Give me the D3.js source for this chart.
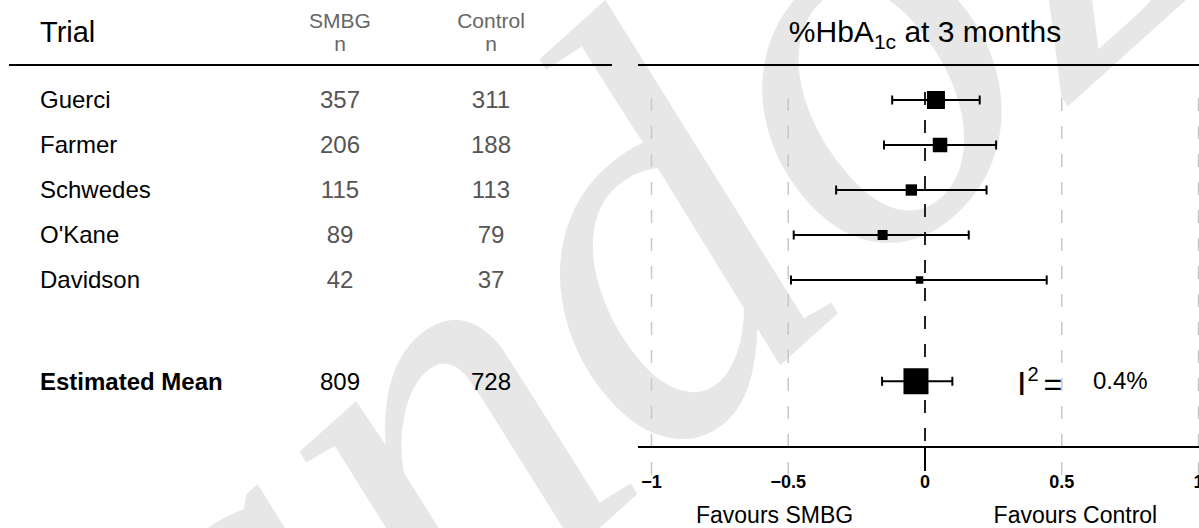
<!DOCTYPE html>
<html>
<head>
<meta charset="utf-8">
<script src="https://cdnjs.cloudflare.com/ajax/libs/d3/7.8.5/d3.min.js"></script>
<style>
  body { margin: 0; background: #fff; }
  svg { display: block; font-family: "Liberation Sans", Arial, sans-serif; }
</style>
</head>
<body>
<svg id="chart" width="1199" height="528"></svg>
<script>
// trial table
var trials   = ["Guerci", "Farmer", "Schwedes", "O'Kane", "Davidson"];
var nSMBG    = [357, 206, 115, 89, 42];
var nControl = [311, 188, 113, 79, 37];
// HbA1c difference at 3 months, with 95% CI
var est   = [0.04, 0.055, -0.05, -0.155, -0.02];
var lower = [-0.12, -0.15, -0.325, -0.48, -0.49];
var upper = [0.20, 0.26, 0.225, 0.16, 0.445];

var meanLabel = "Estimated Mean";
var meanSMBG = 809, meanControl = 728;
var meanEst = -0.033, meanLower = -0.157, meanUpper = 0.10;
var i2Text = "0.4%";

var xTicks = [-1, -0.5, 0, 0.5, 1];
var refLines = [-1, -0.5, 0.5, 1];

var svg = d3.select("#chart");

var x = d3.scaleLinear().domain([-1, 1]).range([651.5, 1198.5]);
// row index -> vertical position
var y = d3.scaleLinear().domain([0, 1]).range([100, 145]);
var meanRow = 6.25;

// box size from precision of the estimate
var prec = trials.map(function(t, i) { return 1 / (upper[i] - lower[i]); });
var boxSize = d3.scaleLinear().domain(d3.extent(prec)).range([7.5, 18]);

// watermark
svg.append("text")
   .attr("transform", "translate(32,1039) rotate(-42)")
   .style("font-family", "'Liberation Serif', serif")
   .style("font-style", "italic")
   .style("font-size", "560px")
   .attr("fill", "#e7e7e7")
   .text("Sandoz");

// header
svg.append("text").attr("x", 40).attr("y", 32).attr("dy", "0.35em")
   .style("font-size", "29px").text("Trial");

var heads = [["SMBG", 340], ["Control", 491]];
heads.forEach(function(h) {
  svg.append("text").attr("x", h[1]).attr("y", 21).attr("dy", "0.35em")
     .attr("text-anchor", "middle").attr("fill", "#666").style("font-size", "21px").text(h[0]);
  svg.append("text").attr("x", h[1]).attr("y", 44).attr("dy", "0.35em")
     .attr("text-anchor", "middle").attr("fill", "#666").style("font-size", "21px").text("n");
});

var title = svg.append("text").attr("x", x(0)).attr("y", 42)
   .attr("text-anchor", "middle").style("font-size", "30px");
title.append("tspan").text("%HbA");
title.append("tspan").attr("dy", 7).style("font-size", "21px").text("1c");
title.append("tspan").attr("dy", -7).text(" at 3 months");

svg.append("line").attr("x1", 9).attr("x2", 612).attr("y1", 65).attr("y2", 65)
   .attr("stroke", "#000").attr("stroke-width", 2);
svg.append("line").attr("x1", 638).attr("x2", 1199).attr("y1", 65).attr("y2", 65)
   .attr("stroke", "#000").attr("stroke-width", 2);

// table rows
var rows = svg.append("g");
trials.forEach(function(t, i) {
  rows.append("text").attr("x", 40).attr("y", y(i)).attr("dy", "0.35em")
      .style("font-size", "24px").text(t);
  rows.append("text").attr("x", 340).attr("y", y(i)).attr("dy", "0.35em")
      .attr("text-anchor", "middle").attr("fill", "#555").style("font-size", "24px").text(nSMBG[i]);
  rows.append("text").attr("x", 491).attr("y", y(i)).attr("dy", "0.35em")
      .attr("text-anchor", "middle").attr("fill", "#555").style("font-size", "24px").text(nControl[i]);
});
rows.append("text").attr("x", 40).attr("y", y(meanRow)).attr("dy", "0.35em")
    .style("font-size", "24px").style("font-weight", "bold").text(meanLabel);
rows.append("text").attr("x", 340).attr("y", y(meanRow)).attr("dy", "0.35em")
    .attr("text-anchor", "middle").style("font-size", "24px").text(meanSMBG);
rows.append("text").attr("x", 491).attr("y", y(meanRow)).attr("dy", "0.35em")
    .attr("text-anchor", "middle").style("font-size", "24px").text(meanControl);

// reference lines
var axisY = 447;
svg.selectAll(".ref").data(refLines).enter().append("line")
   .attr("x1", function(d) { return x(d); }).attr("x2", function(d) { return x(d); })
   .attr("y1", 98).attr("y2", 476)
   .attr("stroke", "#c8c8c8").attr("stroke-width", 1.5).attr("stroke-dasharray", "13,15");
svg.append("line").attr("x1", x(0)).attr("x2", x(0)).attr("y1", 92).attr("y2", axisY)
   .attr("stroke", "#222").attr("stroke-width", 2).attr("stroke-dasharray", "13,15");

// axis
svg.append("line").attr("x1", 638).attr("x2", 1199).attr("y1", axisY).attr("y2", axisY)
   .attr("stroke", "#000").attr("stroke-width", 2);
svg.append("line").attr("x1", x(0)).attr("x2", x(0)).attr("y1", axisY).attr("y2", axisY + 24)
   .attr("stroke", "#000").attr("stroke-width", 2);
svg.selectAll(".tick").data(xTicks).enter().append("text")
   .attr("x", function(d) { return x(d); }).attr("y", 482).attr("dy", "0.35em")
   .attr("text-anchor", "middle").style("font-size", "18px").style("font-weight", "bold")
   .text(function(d) { return d3.format("")(d).replace("-", "\u2013"); });

svg.append("text").attr("x", x(-0.55)).attr("y", 515).attr("dy", "0.35em")
   .attr("text-anchor", "middle").style("font-size", "23px").text("Favours SMBG");
svg.append("text").attr("x", x(0.55)).attr("y", 515).attr("dy", "0.35em")
   .attr("text-anchor", "middle").style("font-size", "23px").text("Favours Control");

// CIs and boxes
var plot = svg.append("g");
function drawCI(yy, lo, hi) {
  plot.append("line").attr("x1", x(lo)).attr("x2", x(hi)).attr("y1", yy).attr("y2", yy)
      .attr("stroke", "#000").attr("stroke-width", 2);
  [lo, hi].forEach(function(v) {
    plot.append("line").attr("x1", x(v)).attr("x2", x(v)).attr("y1", yy - 4.5).attr("y2", yy + 4.5)
        .attr("stroke", "#000").attr("stroke-width", 2);
  });
}
trials.forEach(function(t, i) {
  drawCI(y(i), lower[i], upper[i]);
  var s = boxSize(prec[i]);
  plot.append("rect").attr("x", x(est[i]) - s / 2).attr("y", y(i) - s / 2)
      .attr("width", s).attr("height", s).attr("fill", "#000");
});
drawCI(y(meanRow), meanLower, meanUpper);
plot.append("rect").attr("x", x(meanEst) - 12.5).attr("y", y(meanRow) - 13)
    .attr("width", 25).attr("height", 26).attr("fill", "#000");

// heterogeneity
var i2 = svg.append("text").attr("x", 1017).attr("y", 395).style("font-size", "34px");
i2.append("tspan").text("I");
i2.append("tspan").attr("dy", -14).attr("dx", 1).style("font-size", "20px").text("2");
i2.append("tspan").attr("dy", 14).attr("dx", 5).style("font-size", "32px").text("=");
svg.append("text").attr("x", 1093).attr("y", 381).attr("dy", "0.35em")
   .style("font-size", "24px").text(i2Text);
</script>
</body>
</html>
